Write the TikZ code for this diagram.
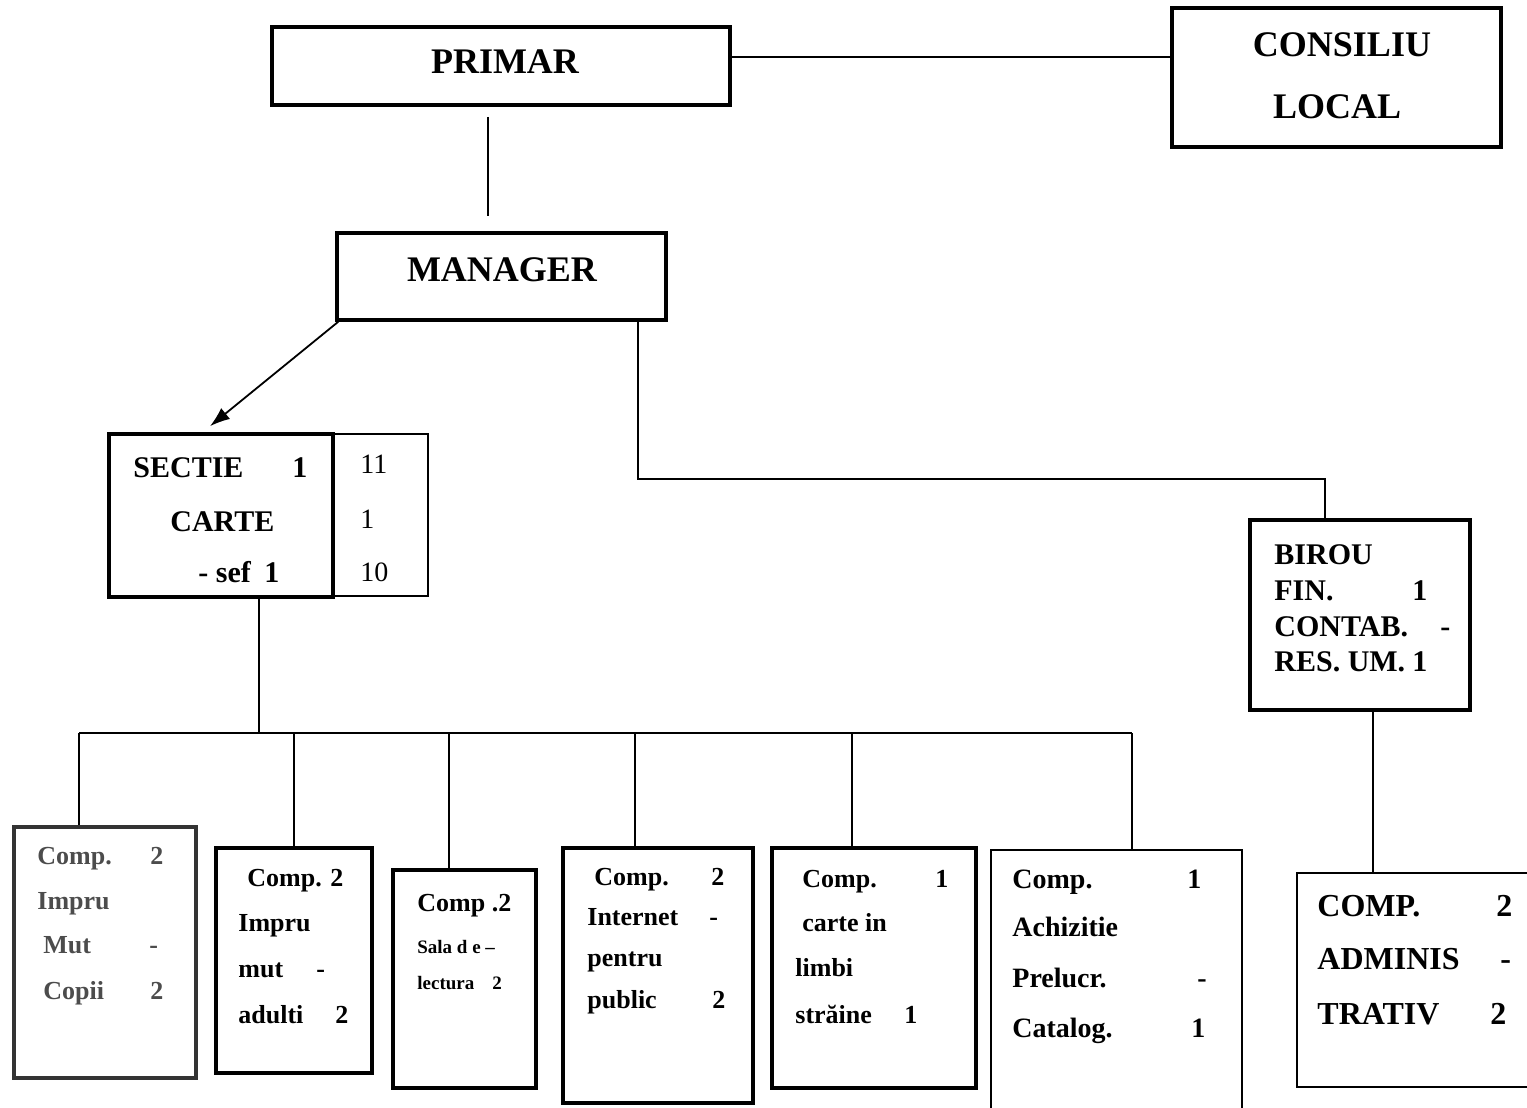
\documentclass[tikz,border=0pt]{standalone}
\usepackage{fontspec}
\setmainfont{Liberation Serif}
\usetikzlibrary{fit,calc,arrows.meta}
\begin{document}
\begin{tikzpicture}[x=0.5pt,y=-0.5pt,
  thickbox/.style={draw, line width=1.8pt, inner sep=0pt},
  thinbox/.style={draw, line width=0.8pt, inner sep=0pt},
  conn/.style={line width=0.9pt},
  lbl/.style={anchor=mid west, inner sep=0pt, yshift=-2pt, font=\bfseries\fontsize{#1}{#1}\selectfont},
  cap/.style={anchor=mid west, inner sep=0pt, yshift=-2.8pt, font=\bfseries\fontsize{#1}{#1}\selectfont},
  reg/.style={anchor=mid west, inner sep=0pt, yshift=-2pt, font=\fontsize{#1}{#1}\selectfont},
  ctr/.style={anchor=mid, inner sep=0pt, yshift=-3.5pt, font=\bfseries\fontsize{#1}{#1}\selectfont},
]
\useasboundingbox (0,0) rectangle (1527,1108);

% top boxes
\node[thickbox, fit={(272,27) (730,105)}] (primar) {};
\node[ctr=18] (tprimar) at (505,62) {PRIMAR};
\node[thickbox, fit={(1172,8) (1501,147)}] (consiliu) {};
\node[ctr=18] (tcons1) at (1342,45) {CONSILIU};
\node[ctr=18] (tcons2) at (1337,107) {LOCAL};
\node[thickbox, fit={(337,233) (666,320)}] (manager) {};
\node[ctr=18] (tman) at (502,270) {MANAGER};

% sectie
\node[thinbox, fit={(333,434) (428,596)}] (sectnum) {};
\node[thickbox, fit={(109,434) (333,597)}] (sectie) {};
\node[cap=15] (s1) at (133,467) {SECTIE};
\node[cap=15] (s1n) at (292,467) {1};
\node[cap=15] (s2) at (170,521) {CARTE};
\node[lbl=15] (s3) at (198,574) {- sef};
\node[lbl=15] (s3n) at (264,574) {1};
\node[reg=14] (n1) at (360,465) {11};
\node[reg=14] (n2) at (360,520) {1};
\node[reg=14] (n3) at (360,573) {10};

% birou
\node[thickbox, fit={(1250,520) (1470,710)}] (birou) {};
\node[cap=15] (b1) at (1274,554) {BIROU};
\node[cap=15] (b2) at (1274,590) {FIN.};
\node[cap=15] (b2n) at (1412,590) {1};
\node[cap=15] (b3) at (1274,626) {CONTAB.};
\node[cap=15] (b3n) at (1440,626) {-};
\node[cap=15] (b4) at (1274,661) {RES. UM.};
\node[cap=15] (b4n) at (1412,661) {1};

% bottom boxes
\node[thickbox, draw=black!80, fit={(14,827) (196,1078)}] (c1) {};
\begin{scope}[text=black!70]
\node[lbl=13] (c1a) at (37,856) {Comp.};
\node[lbl=13] (c1an) at (150,856) {2};
\node[lbl=13] (c1b) at (37,901) {Impru};
\node[lbl=13] (c1c) at (43,945) {Mut};
\node[lbl=13] (c1cn) at (149,945) {-};
\node[lbl=13] (c1d) at (43,991) {Copii};
\node[lbl=13] (c1dn) at (150,991) {2};
\end{scope}

\node[thickbox, fit={(216,848) (372,1073)}] (c2) {};
\node[lbl=13] (c2a) at (247,878) {Comp. 2};
\node[lbl=13] (c2b) at (238,923) {Impru};
\node[lbl=13] (c2c) at (238,969) {mut};
\node[lbl=13] (c2cn) at (316,969) {-};
\node[lbl=13] (c2d) at (238,1015) {adulti};
\node[lbl=13] (c2dn) at (335,1015) {2};

\node[thickbox, fit={(393,870) (536,1088)}] (c3) {};
\node[lbl=13] (c3a) at (417,903) {Comp .2};
\node[lbl=9.5] (c3b) at (417,945) {Sala d e};
\node[lbl=9.5] (c3bn) at (485,945) {--};
\node[lbl=9.5] (c3c) at (417,981) {lectura};
\node[lbl=9.5] (c3cn) at (492,981) {2};

\node[thickbox, fit={(563,848) (753,1103)}] (c4) {};
\node[lbl=13] (c4a) at (594,877) {Comp.};
\node[lbl=13] (c4an) at (711,877) {2};
\node[lbl=13] (c4b) at (587,917) {Internet};
\node[lbl=13] (c4bn) at (709,917) {-};
\node[lbl=13] (c4c) at (587,958) {pentru};
\node[lbl=13] (c4d) at (587,1000) {public};
\node[lbl=13] (c4dn) at (712,1000) {2};

\node[thickbox, fit={(772,848) (976,1088)}] (c5) {};
\node[lbl=13] (c5a) at (802,879) {Comp.};
\node[lbl=13] (c5an) at (935,879) {1};
\node[lbl=13] (c5b) at (802,923) {carte in};
\node[lbl=13] (c5c) at (795,968) {limbi};
\node[lbl=13] (c5d) at (795,1015) {străine};
\node[lbl=13] (c5dn) at (904,1015) {1};

\node[thinbox, fit={(991,850) (1242,1125)}] (c6) {};
\node[lbl=14] (c6a) at (1012,880) {Comp.};
\node[lbl=14] (c6an) at (1187,880) {1};
\node[lbl=14] (c6b) at (1012,928) {Achizitie};
\node[lbl=14] (c6c) at (1012,979) {Prelucr.};
\node[lbl=14] (c6cn) at (1197,979) {-};
\node[lbl=14] (c6d) at (1012,1029) {Catalog.};
\node[lbl=14] (c6dn) at (1191,1029) {1};

\node[thinbox, fit={(1297,873) (1540,1087)}] (c7) {};
\node[cap=16] (c7a) at (1317,906) {COMP.};
\node[cap=16] (c7an) at (1496,906) {2};
\node[cap=16] (c7b) at (1317,959) {ADMINIS};
\node[cap=16] (c7bn) at (1500,959) {-};
\node[cap=16] (c7c) at (1317,1014) {TRATIV};
\node[cap=16] (c7cn) at (1490,1014) {2};

% connectors
\draw[conn] (primar.east |- 0,57) -- (consiliu.west |- 0,57);
\draw[conn, shorten <=5pt, shorten >=7.5pt] ([xshift=-6.5pt]primar.south) -- ([xshift=-6.5pt]primar.south |- manager.north);
\draw[conn, -{Latex[length=10pt,width=7pt]}] ([xshift=1.5pt]manager.south west) -- ([xshift=-5.5pt,yshift=3pt]sectie.north);
\draw[conn] ([xshift=-15pt]manager.south east) -- ++(0,157) -| ([xshift=-17.5pt]birou.north);
\draw[conn] ([xshift=6.5pt]birou.south) -- ([xshift=6.5pt]birou.south |- c7.north);

\coordinate (t1) at (79,733);
\coordinate (t2) at (294,733);
\coordinate (t3) at (449,733);
\coordinate (t4) at (635,733);
\coordinate (t5) at (852,733);
\coordinate (t6) at (1132,733);
\draw[conn] ([xshift=19pt]sectie.south) -- ([xshift=19pt]sectie.south |- t1);
\draw[conn] (t1) -- (t6);
\draw[conn] (t1) -- (t1 |- c1.north);
\draw[conn] (t2) -- (t2 |- c2.north);
\draw[conn] (t3) -- (t3 |- c3.north);
\draw[conn] (t4) -- (t4 |- c4.north);
\draw[conn] (t5) -- (t5 |- c5.north);
\draw[conn] (t6) -- (t6 |- c6.north);
\end{tikzpicture}
\end{document}
